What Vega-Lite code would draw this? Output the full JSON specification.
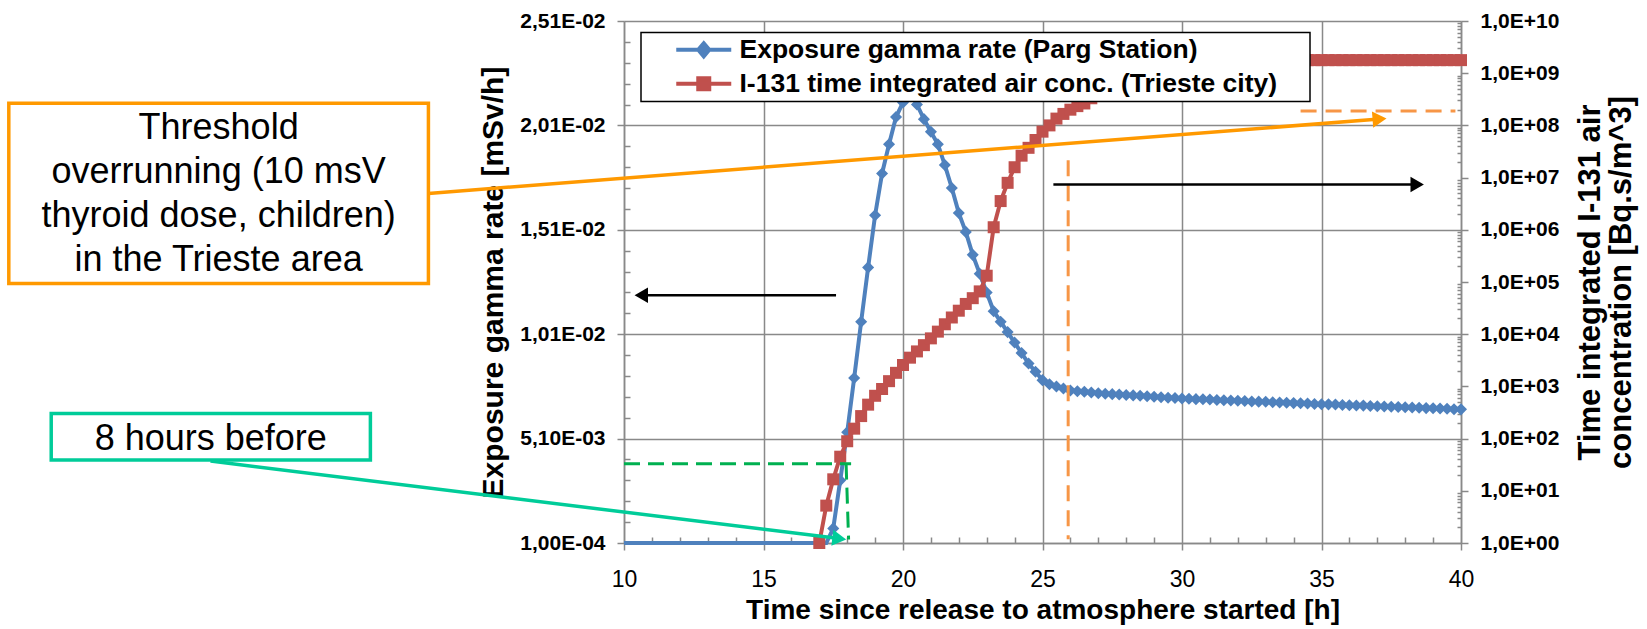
{
  "$schema": "https://vega.github.io/schema/vega-lite/v6.json",
  "width": 837,
  "height": 522,
  "autosize": {"type": "none"},
  "padding": {"left": 624, "top": 21, "right": 186, "bottom": 86},
  "background": "white",
  "config": {
    "font": "Liberation Sans",
    "view": {"stroke": null},
    "axis": {
      "labelFont": "Liberation Sans", "titleFont": "Liberation Sans",
      "labelColor": "black", "titleColor": "black",
      "domainColor": "#898989", "tickColor": "#898989", "gridColor": "#898989",
      "domainWidth": 1.5, "tickWidth": 1.5, "gridWidth": 1.5,
      "labelFlush": false, "labelOverlap": false, "labelBound": false
    }
  },
  "datasets": {
    "gamma": [
      {"t":10,"v":0.0001},{"t":17.25,"v":0.0001},{"t":17.5,"v":0.0008},{"t":17.75,"v":0.0031},{"t":18,"v":0.0054},{"t":18.25,"v":0.008},{"t":18.5,"v":0.0107},{"t":18.75,"v":0.0133},{"t":19,"v":0.0158},{"t":19.25,"v":0.0178},{"t":19.5,"v":0.0192},{"t":19.75,"v":0.0205},{"t":20,"v":0.0212},{"t":20.25,"v":0.0219},{"t":20.5,"v":0.0211},{"t":20.75,"v":0.0204},{"t":21,"v":0.0198},{"t":21.25,"v":0.0192},{"t":21.5,"v":0.0182},{"t":21.75,"v":0.0171},{"t":22,"v":0.0159},{"t":22.25,"v":0.015},{"t":22.5,"v":0.0139},{"t":22.75,"v":0.013},{"t":23,"v":0.0121},{"t":23.25,"v":0.0112},{"t":23.5,"v":0.0107},{"t":23.75,"v":0.0102},{"t":24,"v":0.0097},{"t":24.25,"v":0.0092},{"t":24.5,"v":0.0087},{"t":24.75,"v":0.0083},{"t":25,"v":0.0079},{"t":25.25,"v":0.0077},{"t":25.5,"v":0.0076},{"t":25.75,"v":0.0075},{"t":26,"v":0.0074},{"t":26.25,"v":0.00737},{"t":26.5,"v":0.00734},{"t":26.75,"v":0.00731},{"t":27,"v":0.00727},{"t":27.25,"v":0.00725},{"t":27.5,"v":0.00723},{"t":27.75,"v":0.00721},{"t":28,"v":0.00719},{"t":28.25,"v":0.00717},{"t":28.5,"v":0.00715},{"t":28.75,"v":0.00713},{"t":29,"v":0.0071},{"t":29.25,"v":0.00708},{"t":29.5,"v":0.00706},{"t":29.75,"v":0.00704},{"t":30,"v":0.00702},{"t":30.25,"v":0.00701},{"t":30.5,"v":0.00699},{"t":30.75,"v":0.00698},{"t":31,"v":0.00697},{"t":31.25,"v":0.00695},{"t":31.5,"v":0.00694},{"t":31.75,"v":0.00692},{"t":32,"v":0.00691},{"t":32.25,"v":0.0069},{"t":32.5,"v":0.00688},{"t":32.75,"v":0.00687},{"t":33,"v":0.00686},{"t":33.25,"v":0.00684},{"t":33.5,"v":0.00683},{"t":33.75,"v":0.00682},{"t":34,"v":0.0068},{"t":34.25,"v":0.00679},{"t":34.5,"v":0.00678},{"t":34.75,"v":0.00676},{"t":35,"v":0.00675},{"t":35.25,"v":0.00674},{"t":35.5,"v":0.00673},{"t":35.75,"v":0.00671},{"t":36,"v":0.0067},{"t":36.25,"v":0.00669},{"t":36.5,"v":0.00668},{"t":36.75,"v":0.00666},{"t":37,"v":0.00665},{"t":37.25,"v":0.00664},{"t":37.5,"v":0.00663},{"t":37.75,"v":0.00661},{"t":38,"v":0.0066},{"t":38.25,"v":0.00659},{"t":38.5,"v":0.00658},{"t":38.75,"v":0.00656},{"t":39,"v":0.00655},{"t":39.25,"v":0.00654},{"t":39.5,"v":0.00653},{"t":39.75,"v":0.00651},{"t":40,"v":0.0065}
    ],
    "iodine": [
      {"t":17,"v":1},{"t":17.25,"v":5.2},{"t":17.5,"v":16.6},{"t":17.75,"v":45},{"t":18,"v":89},{"t":18.25,"v":155},{"t":18.5,"v":270},{"t":18.75,"v":447},{"t":19,"v":661},{"t":19.25,"v":891},{"t":19.5,"v":1260},{"t":19.75,"v":1820},{"t":20,"v":2570},{"t":20.25,"v":3550},{"t":20.5,"v":4680},{"t":20.75,"v":6170},{"t":21,"v":8320},{"t":21.25,"v":11200},{"t":21.5,"v":15500},{"t":21.75,"v":20900},{"t":22,"v":28200},{"t":22.25,"v":38000},{"t":22.5,"v":49000},{"t":22.75,"v":66100},{"t":23,"v":132000},{"t":23.25,"v":1120000},{"t":23.5,"v":3550000},{"t":23.75,"v":7940000},{"t":24,"v":15800000},{"t":24.25,"v":26300000},{"t":24.5,"v":37200000},{"t":24.75,"v":52500000},{"t":25,"v":75900000},{"t":25.25,"v":100000000},{"t":25.5,"v":135000000},{"t":25.75,"v":166000000},{"t":26,"v":200000000},{"t":26.25,"v":234000000},{"t":26.5,"v":263000000},{"t":26.75,"v":331000000},{"t":27,"v":398000000},{"t":27.25,"v":500000000},{"t":27.5,"v":631000000},{"t":27.75,"v":794000000},{"t":28,"v":1000000000},{"t":28.25,"v":1200000000},{"t":28.5,"v":1380000000},{"t":28.75,"v":1550000000},{"t":29,"v":1660000000},{"t":29.25,"v":1740000000},{"t":29.5,"v":1780000000},{"t":29.75,"v":1780000000},{"t":30,"v":1780000000},{"t":30.25,"v":1780000000},{"t":30.5,"v":1780000000},{"t":30.75,"v":1780000000},{"t":31,"v":1780000000},{"t":31.25,"v":1780000000},{"t":31.5,"v":1780000000},{"t":31.75,"v":1780000000},{"t":32,"v":1780000000},{"t":32.25,"v":1780000000},{"t":32.5,"v":1780000000},{"t":32.75,"v":1780000000},{"t":33,"v":1780000000},{"t":33.25,"v":1780000000},{"t":33.5,"v":1780000000},{"t":33.75,"v":1780000000},{"t":34,"v":1780000000},{"t":34.25,"v":1780000000},{"t":34.5,"v":1780000000},{"t":34.75,"v":1780000000},{"t":35,"v":1780000000},{"t":35.25,"v":1780000000},{"t":35.5,"v":1780000000},{"t":35.75,"v":1780000000},{"t":36,"v":1780000000},{"t":36.25,"v":1780000000},{"t":36.5,"v":1780000000},{"t":36.75,"v":1780000000},{"t":37,"v":1780000000},{"t":37.25,"v":1780000000},{"t":37.5,"v":1780000000},{"t":37.75,"v":1780000000},{"t":38,"v":1780000000},{"t":38.25,"v":1780000000},{"t":38.5,"v":1780000000},{"t":38.75,"v":1780000000},{"t":39,"v":1780000000},{"t":39.25,"v":1780000000},{"t":39.5,"v":1780000000},{"t":39.75,"v":1780000000},{"t":40,"v":1780000000}
    ]
  },
  "resolve": {"scale": {"y": "independent"}, "axis": {"y": "independent"}},
  "layer": [
    {
      "layer": [
        {
          "data": {"name": "gamma"},
          "mark": {"type": "line", "strokeWidth": 4},
          "encoding": {
            "x": {"field": "t", "type": "quantitative", "scale": {"domain": [10, 40], "nice": false, "zero": false},
              "axis": {"orient": "bottom", "values": [10, 15, 20, 25, 30, 35, 40], "grid": true, "tickSize": 7, "labelFontSize": 23, "labelFontWeight": "normal", "labelPadding": 18,
                "title": "Time since release to atmosphere started [h]", "titleFontSize": 28, "titleFontWeight": "bold", "titlePadding": 5}},
            "y": {"field": "v", "type": "quantitative", "scale": {"domain": [0.0001, 0.0251], "nice": false, "zero": false},
              "axis": {"orient": "left", "values": [0.0001, 0.0051, 0.0101, 0.0151, 0.0201, 0.0251], "grid": true, "tickSize": 7, "labelFontSize": 21, "labelFontWeight": "bold", "labelPadding": 12,
                "labelExpr": "datum.value < 0.001 ? '1,00E-04' : datum.value < 0.01 ? replace(format(datum.value*1000, '.2f'), '.', ',') + 'E-03' : replace(format(datum.value*100, '.2f'), '.', ',') + 'E-02'",
                "title": "Exposure gamma rate [mSv/h]", "titleFontSize": 30, "titleFontWeight": "bold", "titlePadding": 11}},
            "color": {"datum": "Exposure gamma rate (Parg Station)", "type": "nominal",
              "scale": {"domain": ["Exposure gamma rate (Parg Station)", "I-131 time integrated air conc. (Trieste city)"], "range": ["#4F81BD", "#C0504D"]},
              "legend": {"orient": "none", "legendX": 17, "legendY": 11.6, "fillColor": "white", "strokeColor": "black", "padding": 4,
                "title": ".", "titleColor": "white", "titleFontSize": 2, "titleOrient": "right", "titlePadding": 28,
                "labelFont": "Liberation Sans", "labelFontSize": 26.5, "labelFontWeight": "bold", "labelColor": "black", "labelLimit": 1000,
                "labelOffset": 68, "rowPadding": 5, "symbolSize": 400, "symbolStrokeWidth": 4,
                "encode": {
                  "symbols": {"update": {
                    "shape": {"signal": "datum.value === 'Exposure gamma rate (Parg Station)' ? 'M1.8,0L7.3,0M4.55,-0.65L5.1,0L4.55,0.65L4.0,0Z' : 'M1.8,0L7.3,0M4.0,-0.55L5.1,-0.55L5.1,0.55L4.0,0.55Z'"},
                    "fill": {"scale": "color", "field": "value"},
                    "stroke": {"scale": "color", "field": "value"},
                    "strokeWidth": {"value": 4},
                    "opacity": {"value": 1}
                  }},
                  "legend": {"update": {"strokeWidth": {"value": 1.5}}}
                }}}
          }
        },
        {
          "data": {"name": "gamma"},
          "transform": [{"filter": "datum.t >= 17.5"}],
          "mark": {"type": "point", "shape": "diamond", "filled": true, "size": 145, "color": "#4F81BD", "opacity": 1},
          "encoding": {
            "x": {"field": "t", "type": "quantitative",
              "axis": {"orient": "bottom", "values": [11, 12, 13, 14, 16, 17, 18, 19, 21, 22, 23, 24, 26, 27, 28, 29, 31, 32, 33, 34, 36, 37, 38, 39], "domain": false, "labels": false, "grid": false, "tickSize": -6, "title": null}},
            "y": {"field": "v", "type": "quantitative",
              "axis": {"orient": "left", "values": [0.0011, 0.0021, 0.0031, 0.0041, 0.0061, 0.0071, 0.0081, 0.0091, 0.0111, 0.0121, 0.0131, 0.0141, 0.0161, 0.0171, 0.0181, 0.0191, 0.0211, 0.0221, 0.0231, 0.0241], "domain": false, "labels": false, "grid": false, "tickSize": -6, "title": null}}
          }
        }
      ],
      "resolve": {"axis": {"y": "independent", "x": "independent"}}
    },
    {
      "layer": [
        {
          "data": {"name": "iodine"},
          "mark": {"type": "line", "strokeWidth": 4},
          "encoding": {
            "x": {"field": "t", "type": "quantitative", "scale": {"domain": [10, 40], "nice": false, "zero": false}, "axis": null},
            "y": {"field": "v", "type": "quantitative", "scale": {"type": "log", "domain": [1, 10000000000], "nice": false},
              "axis": {"orient": "right", "values": [1, 10, 100, 1000, 10000, 100000, 1000000, 10000000, 100000000, 1000000000, 10000000000], "grid": false, "tickSize": 7, "labelFontSize": 21, "labelFontWeight": "bold", "labelPadding": 12,
                "labelExpr": "'1,0E+' + (datum.value < 1e10 ? '0' : '') + format(round(log(datum.value)/LN10), 'd')",
                "title": ["Time integrated I-131 air", "concentration [Bq.s/m^3]"], "titleAngle": 270, "titleFontSize": 31, "titleFontWeight": "bold", "titleLineHeight": 31, "titlePadding": 17}},
            "color": {"datum": "I-131 time integrated air conc. (Trieste city)", "type": "nominal",
              "scale": {"domain": ["Exposure gamma rate (Parg Station)", "I-131 time integrated air conc. (Trieste city)"], "range": ["#4F81BD", "#C0504D"]}}
          }
        },
        {
          "data": {"name": "iodine"},
          "mark": {"type": "point", "shape": "square", "filled": true, "size": 144, "color": "#C0504D", "opacity": 1},
          "encoding": {
            "x": {"field": "t", "type": "quantitative", "axis": null},
            "y": {"field": "v", "type": "quantitative",
              "axis": {"orient": "right", "values": [2,3,4,5,6,7,8,9,20,30,40,50,60,70,80,90,200,300,400,500,600,700,800,900,2000,3000,4000,5000,6000,7000,8000,9000,2e4,3e4,4e4,5e4,6e4,7e4,8e4,9e4,2e5,3e5,4e5,5e5,6e5,7e5,8e5,9e5,2e6,3e6,4e6,5e6,6e6,7e6,8e6,9e6,2e7,3e7,4e7,5e7,6e7,7e7,8e7,9e7,2e8,3e8,4e8,5e8,6e8,7e8,8e8,9e8,2e9,3e9,4e9,5e9,6e9,7e9,8e9,9e9], "domain": false, "labels": false, "grid": false, "tickSize": -4, "title": null}}
          }
        },
        {
          "data": {"values": [{"x": 25.92, "x2": 25.92, "y": 21500000, "y2": 1.18}, {"x": 34.25, "x2": 39.8, "y": 189000000, "y2": 189000000}]},
          "mark": {"type": "rule", "color": "#F79646", "strokeWidth": 3, "strokeDash": [16, 9]},
          "encoding": {
            "x": {"field": "x", "type": "quantitative", "axis": null},
            "x2": {"field": "x2"},
            "y": {"field": "y", "type": "quantitative", "axis": null},
            "y2": {"field": "y2"}
          }
        },
        {
          "data": {"values": [{"x": 25.39, "x2": 38.45, "y": 7360000}]},
          "mark": {"type": "rule", "color": "black", "strokeWidth": 2.5},
          "encoding": {
            "x": {"field": "x", "type": "quantitative", "axis": null},
            "x2": {"field": "x2"},
            "y": {"field": "y", "type": "quantitative", "axis": null}
          }
        },
        {
          "data": {"values": [{"x": 38.43, "y": 7360000}]},
          "mark": {"type": "point", "shape": "triangle-right", "filled": true, "size": 240, "color": "black", "opacity": 1},
          "encoding": {
            "x": {"field": "x", "type": "quantitative", "axis": null},
            "y": {"field": "y", "type": "quantitative", "axis": null}
          }
        }
      ],
      "resolve": {"axis": {"y": "independent"}}
    },
    {
      "layer": [
        {
          "data": {"values": [{"x": 10, "x2": 18.14, "y": 0.0039, "y2": 0.0039}, {"x": 17.96, "x2": 18.05, "y": 0.0039, "y2": 0.00027}]},
          "mark": {"type": "rule", "color": "#00B050", "strokeWidth": 3, "strokeDash": [16, 8]},
          "encoding": {
            "x": {"field": "x", "type": "quantitative", "axis": null, "scale": {"domain": [10, 40], "nice": false, "zero": false}},
            "x2": {"field": "x2"},
            "y": {"field": "y", "type": "quantitative", "axis": null, "scale": {"domain": [0.0001, 0.0251], "nice": false, "zero": false}},
            "y2": {"field": "y2"}
          }
        },
        {
          "data": {"values": [{"x": 17.6, "x2": 10.6, "y": 0.01197}]},
          "mark": {"type": "rule", "color": "black", "strokeWidth": 2.5},
          "encoding": {
            "x": {"field": "x", "type": "quantitative", "axis": null},
            "x2": {"field": "x2"},
            "y": {"field": "y", "type": "quantitative", "axis": null}
          }
        },
        {
          "data": {"values": [{"x": 10.62, "y": 0.01197}]},
          "mark": {"type": "point", "shape": "triangle-left", "filled": true, "size": 240, "color": "black", "opacity": 1},
          "encoding": {
            "x": {"field": "x", "type": "quantitative", "axis": null},
            "y": {"field": "y", "type": "quantitative", "axis": null}
          }
        },
        {
          "data": {"values": [{"x": -12.05, "x2": 2.99, "y": 0.01253, "y2": 0.02116}]},
          "mark": {"type": "rect", "fill": "white", "stroke": "#FF9900", "strokeWidth": 3.5},
          "encoding": {
            "x": {"field": "x", "type": "quantitative", "axis": null},
            "x2": {"field": "x2"},
            "y": {"field": "y", "type": "quantitative", "axis": null},
            "y2": {"field": "y2"}
          }
        },
        {
          "data": {"values": [{"x": -10.53, "x2": 0.91, "y": 0.004071, "y2": 0.006306}]},
          "mark": {"type": "rect", "fill": "white", "stroke": "#00CC99", "strokeWidth": 3.5},
          "encoding": {
            "x": {"field": "x", "type": "quantitative", "axis": null},
            "x2": {"field": "x2"},
            "y": {"field": "y", "type": "quantitative", "axis": null},
            "y2": {"field": "y2"}
          }
        },
        {
          "data": {"values": [{"x": 2.99, "x2": 37.08, "y": 0.01684, "y2": 0.020404}]},
          "mark": {"type": "rule", "color": "#FF9900", "strokeWidth": 3.5},
          "encoding": {
            "x": {"field": "x", "type": "quantitative", "axis": null},
            "x2": {"field": "x2"},
            "y": {"field": "y", "type": "quantitative", "axis": null},
            "y2": {"field": "y2"}
          }
        },
        {
          "data": {"values": [{"x": 37.08, "y": 0.020404}]},
          "mark": {"type": "point", "shape": "triangle-right", "filled": true, "size": 260, "color": "#FF9900", "opacity": 1, "angle": -4.5},
          "encoding": {
            "x": {"field": "x", "type": "quantitative", "axis": null},
            "y": {"field": "y", "type": "quantitative", "axis": null}
          }
        },
        {
          "data": {"values": [{"x": -4.82, "x2": 17.716, "y": 0.004022, "y2": 0.000313}]},
          "mark": {"type": "rule", "color": "#00CC99", "strokeWidth": 3.5},
          "encoding": {
            "x": {"field": "x", "type": "quantitative", "axis": null},
            "x2": {"field": "x2"},
            "y": {"field": "y", "type": "quantitative", "axis": null},
            "y2": {"field": "y2"}
          }
        },
        {
          "data": {"values": [{"x": 17.716, "y": 0.000313}]},
          "mark": {"type": "point", "shape": "triangle-right", "filled": true, "size": 260, "color": "#00CC99", "opacity": 1, "angle": 7},
          "encoding": {
            "x": {"field": "x", "type": "quantitative", "axis": null},
            "y": {"field": "y", "type": "quantitative", "axis": null}
          }
        },
        {
          "data": {"values": [
            {"x": -4.53, "y": 0.019437, "label": "Threshold\noverrunning (10 msV\nthyroid dose, children)\nin the Trieste area"},
            {"x": -4.81, "y": 0.004549, "label": "8 hours before"}
          ]},
          "mark": {"type": "text", "font": "Liberation Sans", "fontSize": 36, "align": "center", "baseline": "alphabetic", "lineBreak": "\n", "lineHeight": 44, "color": "black"},
          "encoding": {
            "x": {"field": "x", "type": "quantitative", "axis": null},
            "y": {"field": "y", "type": "quantitative", "axis": null},
            "text": {"field": "label"}
          }
        }
      ]
    }
  ]
}
